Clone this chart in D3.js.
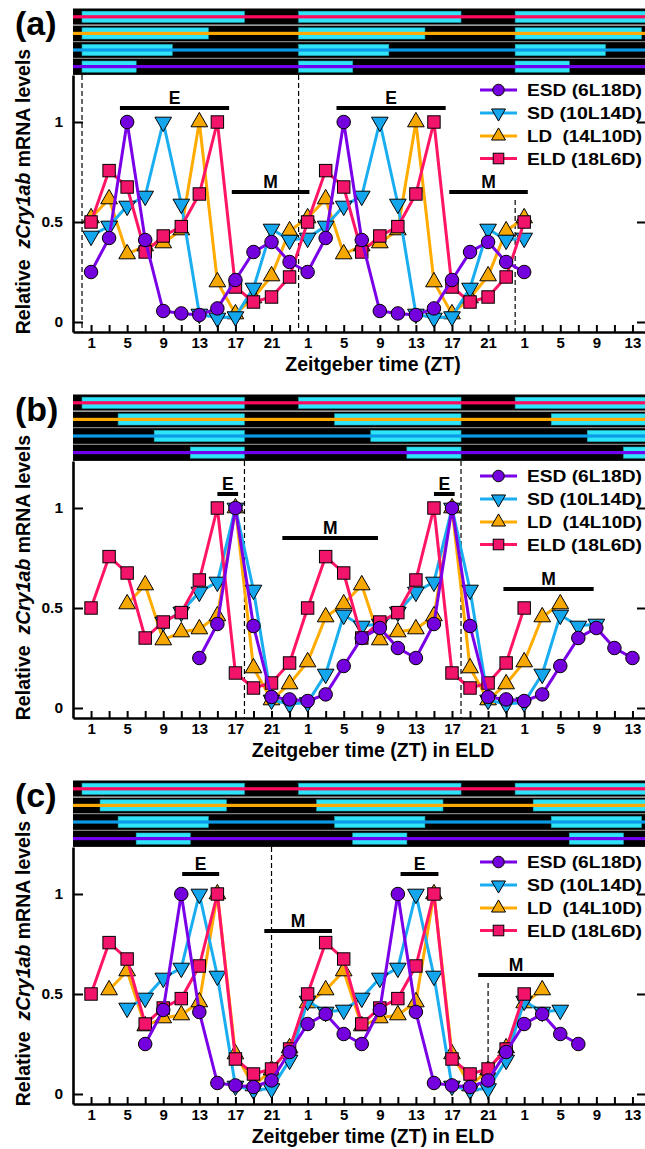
<!DOCTYPE html>
<html>
<head>
<meta charset="utf-8">
<script src="https://cdn.jsdelivr.net/npm/d3@7"></script>
<style>
  body { margin: 0; background: #fff; }
  text { font-family: "Liberation Sans", Arial, sans-serif; font-weight: bold; fill: #000; }
</style>
</head>
<body>
<div id="chart"></div>
<script>
// ---- data ----
// sampling times (ZT, double plotted), values read for each photoperiod
var zt  = [1, 3, 5, 7, 9, 11, 13, 15, 17, 19, 21, 23, 25, 27, 29, 31, 33, 35, 37, 39, 41, 43, 45, 47, 49];
var esd = [0.25, 0.42, 1.0, 0.41, 0.055, 0.043, 0.035, 0.068, 0.21, 0.35, 0.40, 0.30, 0.25,
           0.42, 1.0, 0.41, 0.055, 0.043, 0.035, 0.068, 0.21, 0.35, 0.40, 0.30, 0.25];
var sd  = [0.43, 0.48, 0.58, 0.63, 1.0, 0.59, 0.04, 0.02, 0.027, 0.17, 0.465, 0.41, 0.42,
           0.48, 0.58, 0.63, 1.0, 0.59, 0.04, 0.02, 0.027, 0.17, 0.465, 0.41, 0.42];
var ld  = [0.52, 0.615, 0.34, 0.38, 0.395, 0.46, 1.0, 0.20, 0.04, 0.12, 0.23, 0.455, 0.52,
           0.615, 0.34, 0.38, 0.395, 0.46, 1.0, 0.20, 0.04, 0.12, 0.23, 0.455, 0.52];
var eld = [0.50, 0.757, 0.675, 0.35, 0.43, 0.477, 0.64, 1.0, 0.175, 0.10, 0.125, 0.225, 0.50,
           0.757, 0.675, 0.35, 0.43, 0.477, 0.64, 1.0, 0.175, 0.10, 0.125, 0.225, 0.50];

var seriesNames = ["ESD (6L18D)", "SD (10L14D)", "LD  (14L10D)", "ELD (18L6D)"];
var photoperiod = [6, 10, 14, 18];          // hours of light
var shiftA = [0, 0, 0, 0];                  // light-on aligned
var shiftB = [12, 8, 4, 0];                 // light-off aligned to ELD
var shiftC = [6, 4, 2, 0];                  // mid-light aligned

var eBarsA = [[4.2, 16.3, 1.07], [28.2, 40.3, 1.07]];
var mBarsA = [[16.6, 25.2, 0.65], [40.7, 49.4, 0.65]];
var eBarsB = [[15.0, 17.3, 1.07], [39.0, 41.3, 1.07]];
var mBarsB = [[22.2, 32.8, 0.85], [46.7, 56.7, 0.595]];
var eBarsC = [[11.1, 15.2, 1.10], [35.3, 39.5, 1.10]];
var mBarsC = [[20.2, 27.7, 0.815], [43.9, 52.3, 0.595]];

var dashA = [[0, null], [24, null], [48, 0.61]];
var dashB = [[18, null], [42, null]];
var dashC = [[21, null], [45, 0.555]];

var xTickMinor  = [1, 3, 5, 7, 9, 11, 13, 15, 17, 19, 21, 23, 25, 27, 29, 31, 33, 35, 37, 39, 41, 43, 45, 47, 49, 51, 53, 55, 57, 59, 61];
var xTickLabels = {1: "1", 5: "5", 9: "9", 13: "13", 17: "17", 21: "21", 25: "1", 29: "5", 33: "9", 37: "13",
                   41: "17", 45: "21", 49: "1", 53: "5", 57: "9", 61: "13"};
var yTicks = [0, 0.5, 1];
var yTickLabels = ["0", "0.5", "1"];

// ---- style ----
var lineColors = ["#7a00e8", "#1aaef0", "#ffab00", "#ff1466"];
var fillColors = ["#7400dd", "#14a6ec", "#f7a800", "#f2146a"];
var stripColors = ["#7000ee", "#0a9ae6", "#ffa800", "#ff0a5e"];
var symbols = ["circle", "down", "up", "square"];

var width = 645, height = 1149;
var svg = d3.select("#chart").append("svg")
  .attr("width", width).attr("height", height);

var x = d3.scaleLinear().domain([-1, 62.5]).range([73, 646]);

var allVals = [esd, sd, ld, eld];

var panels = [
  {label: "(a)", dy: 0,   shift: shiftA, eBars: eBarsA, mBars: mBarsA, dash: dashA, title: "Zeitgeber time (ZT)"},
  {label: "(b)", dy: 386, shift: shiftB, eBars: eBarsB, mBars: mBarsB, dash: dashB, title: "Zeitgeber time (ZT) in ELD"},
  {label: "(c)", dy: 772, shift: shiftC, eBars: eBarsC, mBars: mBarsC, dash: dashC, title: "Zeitgeber time (ZT) in ELD"}
];

function drawSymbol(g, kind, cx, cy, s, i) {
  var sym;
  if (kind === "circle") {
    g.append("circle").attr("cx", cx).attr("cy", cy).attr("r", s * 0.5)
      .attr("fill", fillColors[i]).attr("stroke", "#000").attr("stroke-width", 1);
    return;
  }
  if (kind === "square") {
    g.append("rect").attr("x", cx - s * 0.46).attr("y", cy - s * 0.46)
      .attr("width", s * 0.92).attr("height", s * 0.92)
      .attr("fill", fillColors[i]).attr("stroke", "#000").attr("stroke-width", 1);
    return;
  }
  sym = d3.symbol().type(d3.symbolTriangle).size(s * s * 0.5);
  g.append("path").attr("d", sym())
    .attr("transform", "translate(" + cx + "," + cy + ")" + (kind === "down" ? " rotate(180)" : ""))
    .attr("fill", fillColors[i]).attr("stroke", "#000").attr("stroke-width", 1);
}

panels.forEach(function(p) {
  var dy = p.dy;
  var y = d3.scaleLinear().domain([-0.05, 1.235]).range([332 + dy, 75 + dy]);
  var g = svg.append("g");

  // light/dark strip
  var stripTop = 8.5 + dy, rowH = 16.6;
  g.append("rect").attr("x", 73).attr("y", stripTop).attr("width", 646 - 73).attr("height", rowH * 4)
    .attr("fill", "#000");
  var rowOrder = [3, 2, 1, 0];
  rowOrder.forEach(function(s, r) {
    var cy = stripTop + rowH * r + rowH / 2;
    for (var k = 0; k < 3; k++) {
      var on = p.shift[s] + 24 * k, off = on + photoperiod[s];
      var x0 = Math.max(x(on), 73), x1 = Math.min(x(off), 646);
      if (x1 <= x0) continue;
      g.append("rect").attr("x", x0).attr("y", cy - 5.6).attr("width", x1 - x0).attr("height", 11.2)
        .attr("fill", "#2fe4f8").attr("stroke", "#1fa9b8").attr("stroke-width", 0.6);
    }
    g.append("rect").attr("x", 73).attr("y", cy - 1.6).attr("width", 646 - 73).attr("height", 3.2)
      .attr("fill", stripColors[s]);
    if (r > 0) {
      g.append("line").attr("x1", 73).attr("x2", 646)
        .attr("y1", stripTop + rowH * r).attr("y2", stripTop + rowH * r)
        .attr("stroke", r === 1 ? "#fff" : "#a0a0a0").attr("stroke-width", 1);
    }
  });

  // dashed reference lines
  p.dash.forEach(function(d) {
    g.append("line").attr("x1", x(d[0])).attr("x2", x(d[0]))
      .attr("y1", d[1] === null ? y(1.235) : y(d[1])).attr("y2", y(-0.05))
      .attr("stroke", "#000").attr("stroke-width", 1.2).attr("stroke-dasharray", "5,3");
  });

  // E / M bars
  function bars(list, lab) {
    list.forEach(function(b) {
      g.append("line").attr("x1", x(b[0])).attr("x2", x(b[1]))
        .attr("y1", y(b[2])).attr("y2", y(b[2]))
        .attr("stroke", "#000").attr("stroke-width", 4);
      g.append("text").attr("x", (x(b[0]) + x(b[1])) / 2).attr("y", y(b[2]) - 4.5)
        .attr("text-anchor", "middle").style("font-size", "17.5px").text(lab);
    });
  }
  bars(p.eBars, "E");
  bars(p.mBars, "M");

  // series
  var order = [2, 1, 3, 0];
  var line = d3.line().x(function(d) { return x(d.t); }).y(function(d) { return y(d.v); });
  order.forEach(function(s) {
    var pts = zt.map(function(t, i) { return {t: t + p.shift[s], v: allVals[s][i]}; });
    var sg = g.append("g");
    sg.append("path").attr("d", line(pts)).attr("fill", "none")
      .attr("stroke", lineColors[s]).attr("stroke-width", 3);
    pts.forEach(function(d) {
      drawSymbol(sg, symbols[s], x(d.t), y(d.v), symbols[s] === "circle" ? 13.5 : (symbols[s] === "square" ? 13.5 : 15.5), s);
    });
  });

  // axes
  var xAxis = d3.axisBottom(x).tickValues(xTickMinor).tickSizeInner(-7).tickSizeOuter(0).tickPadding(5)
    .tickFormat(function(d) { return xTickLabels[d] || ""; });
  var gx = g.append("g").attr("transform", "translate(0," + y(-0.05) + ")").call(xAxis);
  gx.select(".domain").attr("stroke-width", 2.6);
  gx.selectAll(".tick line").attr("stroke-width", 2);
  gx.selectAll("text").style("font-size", "15px").attr("font-family", null);

  var yAxis = d3.axisLeft(y).tickValues(yTicks).tickSizeInner(-10).tickSizeOuter(0).tickPadding(10)
    .tickFormat(function(d, i) { return yTickLabels[i]; });
  var gy = g.append("g").attr("transform", "translate(73,0)").call(yAxis);
  gy.select(".domain").attr("stroke-width", 2.6);
  gy.selectAll(".tick line").attr("stroke-width", 2);
  gy.selectAll("text").style("font-size", "15.5px").attr("font-family", null);

  var yRight = d3.axisRight(y).tickValues(yTicks).tickSizeInner(-8).tickSizeOuter(0).tickFormat("");
  var gr = g.append("g").attr("transform", "translate(645,0)").call(yRight);
  gr.select(".domain").remove();
  gr.selectAll(".tick line").attr("stroke-width", 2);

  // titles
  g.append("text").attr("x", 373).attr("y", 371 + dy).attr("text-anchor", "middle")
    .style("font-size", "19.5px").text(p.title);

  var yt = g.append("text").attr("transform", "translate(30," + (191.5 + dy) + ") rotate(-90)")
    .attr("text-anchor", "middle").style("font-size", "19.5px").style("white-space", "pre");
  yt.append("tspan").text("Relative  ");
  yt.append("tspan").style("font-style", "italic").text("zCry1ab");
  yt.append("tspan").text(" mRNA levels");

  g.append("text").attr("x", 15).attr("y", 35 + dy).style("font-size", "34px").text(p.label);

  // legend
  var legY = [90, 113, 136, 158.5];
  seriesNames.forEach(function(name, s) {
    var ly = legY[s] + dy;
    g.append("line").attr("x1", 480).attr("x2", 517).attr("y1", ly).attr("y2", ly)
      .attr("stroke", lineColors[s]).attr("stroke-width", 3);
    drawSymbol(g, symbols[s], 498.5, ly, symbols[s] === "circle" ? 11.5 : (symbols[s] === "square" ? 11.5 : 13), s);
    g.append("text").attr("x", 527).attr("y", ly + 6).style("font-size", "16.5px").style("white-space", "pre")
      .attr("textLength", 115).attr("lengthAdjust", "spacingAndGlyphs").text(name);
  });
});
</script>
</body>
</html>
